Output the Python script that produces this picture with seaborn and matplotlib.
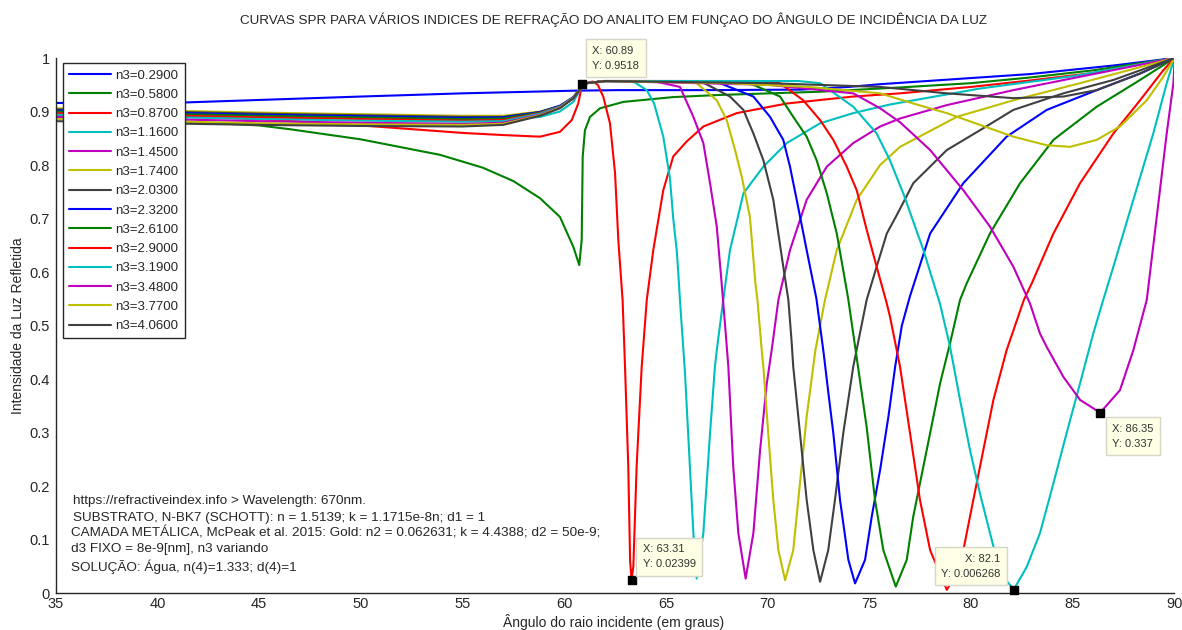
import matplotlib
matplotlib.use("Agg")
import matplotlib.pyplot as plt
from matplotlib import font_manager
import seaborn as sns

# ---------------- data ----------------
labels = ["n3=0.2900", "n3=0.5800", "n3=0.8700", "n3=1.1600", "n3=1.4500", "n3=1.7400",
          "n3=2.0300", "n3=2.3200", "n3=2.6100", "n3=2.9000", "n3=3.1900", "n3=3.4800",
          "n3=3.7700", "n3=4.0600"]

ang_029 = [35, 41.4, 50, 55, 60.55, 62.7, 67, 71.7, 74, 75.5, 79, 82.9, 87, 90]
r_029 = [0.916, 0.917, 0.928, 0.934, 0.939, 0.940, 0.940, 0.941, 0.946, 0.951, 0.960, 0.970, 0.986, 1.0]

ang_058 = [35, 40, 45, 46.5, 50, 53.9, 56, 57.5, 58.81, 59.79, 60.45, 60.74, 60.86, 60.91, 61.02,
           61.27, 61.76, 62.91, 65.36, 67.66, 72.58, 76.51, 80, 83, 86, 90]
r_058 = [0.892, 0.884, 0.874, 0.867, 0.848, 0.819, 0.795, 0.770, 0.738, 0.703, 0.647, 0.613, 0.660,
         0.816, 0.865, 0.890, 0.906, 0.918, 0.927, 0.931, 0.937, 0.945, 0.953, 0.964, 0.977, 1.0]

ang_087 = [35, 40, 45, 50, 51.8, 55, 57, 58.81, 59.79, 60.37, 60.69, 60.89, 61.4, 61.65, 61.92,
           62.25, 62.5, 62.66, 62.87, 62.99, 63.15, 63.24, 63.31, 63.40, 63.56, 63.81, 64.06, 64.38,
           64.87, 65.36, 66.02, 66.84, 68.48, 70.94, 74.21, 76.51, 80, 82.9, 86, 90]
r_087 = [0.897, 0.893, 0.886, 0.874, 0.869, 0.860, 0.856, 0.853, 0.862, 0.884, 0.915, 0.952, 0.956,
         0.950, 0.928, 0.878, 0.785, 0.660, 0.548, 0.423, 0.236, 0.060, 0.024, 0.050, 0.236, 0.423,
         0.548, 0.641, 0.753, 0.816, 0.844, 0.872, 0.897, 0.915, 0.928, 0.934, 0.946, 0.958, 0.972, 1.0]

ang_116 = [35, 40, 45, 50, 55, 57, 58.81, 59.79, 60.45, 60.78, 60.89, 62, 63.4, 64.06, 64.42, 64.87,
           65.2, 65.36, 65.53, 65.61, 65.69, 65.86, 65.94, 66.18, 66.35, 66.51, 66.84, 67.17, 67.41,
           67.5, 67.82, 68.15, 68.81, 69.79, 70.94, 72.58, 74.21, 76.0, 80.44, 85, 90]
r_116 = [0.900, 0.896, 0.892, 0.888, 0.885, 0.884, 0.890, 0.900, 0.918, 0.940, 0.952, 0.957, 0.956,
         0.940, 0.915, 0.853, 0.775, 0.700, 0.641, 0.598, 0.548, 0.454, 0.410, 0.236, 0.112, 0.027,
         0.112, 0.299, 0.423, 0.454, 0.548, 0.641, 0.747, 0.797, 0.841, 0.878, 0.897, 0.913, 0.943,
         0.966, 1.0]

ang_145 = [35, 40, 45, 50, 55, 57, 58.81, 59.79, 60.45, 60.78, 60.89, 62, 64.38, 65.69, 66.35, 66.84,
           67.17, 67.5, 67.74, 67.91, 68.07, 68.31, 68.56, 68.92, 69.30, 69.63, 69.96, 70.2, 70.53,
           71.10, 71.92, 72.91, 74.21, 75.53, 76.51, 78.81, 82.08, 85.36, 90]
r_145 = [0.903, 0.899, 0.895, 0.891, 0.887, 0.887, 0.897, 0.908, 0.924, 0.940, 0.952, 0.957, 0.957,
         0.946, 0.890, 0.841, 0.766, 0.685, 0.579, 0.500, 0.423, 0.236, 0.112, 0.027, 0.112, 0.267,
         0.392, 0.454, 0.548, 0.641, 0.735, 0.797, 0.841, 0.872, 0.887, 0.912, 0.940, 0.965, 1.0]

ang_174 = [35, 40, 45, 50, 55, 57, 58.81, 59.79, 60.45, 60.78, 60.89, 62, 65.5, 66.51, 67.5, 67.99,
           68.4, 68.73, 69.13, 69.4, 69.5, 69.71, 69.79, 70.03, 70.28, 70.53, 70.86, 71.26, 71.59,
           71.92, 72.35, 72.82, 73.40, 74.38, 75.53, 76.51, 77.16, 79.3, 82.08, 85.36, 90]
r_174 = [0.906, 0.902, 0.898, 0.895, 0.892, 0.892, 0.900, 0.910, 0.925, 0.942, 0.952, 0.957, 0.957,
         0.953, 0.921, 0.884, 0.828, 0.778, 0.703, 0.579, 0.548, 0.454, 0.423, 0.299, 0.174, 0.080,
         0.024, 0.080, 0.205, 0.330, 0.454, 0.548, 0.641, 0.735, 0.800, 0.834, 0.847, 0.890, 0.921,
         0.953, 1.0]

ang_203 = [35, 40, 45, 50, 55, 57, 58.81, 59.79, 60.45, 60.78, 60.89, 62, 66, 66.84, 68.15, 68.81,
           69.30, 69.79, 70.28, 70.77, 71.02, 71.18, 71.26, 71.59, 71.92, 72.25, 72.58, 72.98, 73.31,
           73.72, 74.21, 74.87, 75.4, 75.86, 76.4, 77.16, 78.81, 80.44, 82.08, 84.54, 87.0, 90]
r_203 = [0.904, 0.900, 0.896, 0.893, 0.890, 0.890, 0.899, 0.910, 0.926, 0.943, 0.952, 0.957, 0.957,
         0.954, 0.928, 0.903, 0.859, 0.809, 0.735, 0.610, 0.548, 0.470, 0.423, 0.299, 0.174, 0.080,
         0.021, 0.080, 0.174, 0.299, 0.423, 0.548, 0.615, 0.672, 0.710, 0.766, 0.828, 0.865, 0.903,
         0.934, 0.959, 1.0]

ang_232 = [35, 40, 45, 50, 55, 57, 58.81, 59.79, 60.45, 60.78, 60.89, 62, 67, 67.66, 69.30, 70.12,
           70.77, 71.10, 71.43, 71.92, 72.4, 72.75, 73.0, 73.23, 73.56, 73.97, 74.30, 74.79, 75.12,
           75.53, 75.94, 76.27, 76.6, 77.0, 77.99, 79.62, 81.75, 83.72, 86.18, 88.31, 90]
r_232 = [0.902, 0.898, 0.894, 0.891, 0.888, 0.889, 0.899, 0.911, 0.927, 0.943, 0.952, 0.957, 0.957,
         0.953, 0.928, 0.890, 0.847, 0.797, 0.735, 0.641, 0.550, 0.450, 0.370, 0.299, 0.174, 0.062,
         0.018, 0.062, 0.143, 0.230, 0.330, 0.423, 0.500, 0.555, 0.672, 0.766, 0.853, 0.903, 0.940,
         0.971, 1.0]

ang_261 = [35, 40, 45, 50, 55, 57, 58.81, 59.79, 60.45, 60.78, 60.89, 62, 68.5, 69.30, 70.61, 71.26,
           71.92, 72.41, 72.91, 73.40, 73.89, 73.97, 74.38, 74.87, 75.28, 75.69, 76.3, 76.84, 77.16,
           77.49, 77.99, 78.48, 78.97, 79.46, 79.79, 80.93, 82.41, 84.05, 86.18, 88.31, 90]
r_261 = [0.900, 0.896, 0.892, 0.889, 0.886, 0.887, 0.898, 0.910, 0.926, 0.943, 0.952, 0.957, 0.956,
         0.950, 0.928, 0.890, 0.853, 0.809, 0.747, 0.672, 0.566, 0.548, 0.440, 0.310, 0.174, 0.080,
         0.012, 0.062, 0.143, 0.205, 0.299, 0.392, 0.467, 0.548, 0.579, 0.672, 0.766, 0.847, 0.909,
         0.959, 1.0]

ang_290 = [35, 40, 45, 50, 55, 57, 58.81, 59.79, 60.45, 60.78, 60.89, 62, 69.5, 70.61, 71.75, 72.58,
           73.23, 73.89, 74.38, 74.87, 75.36, 75.86, 76.02, 76.51, 77.0, 77.49, 77.99, 78.81, 79.46,
           79.95, 80.44, 81.10, 81.75, 82.6, 83.0, 84.05, 85.36, 87.0, 88.31, 89.45, 90]
r_290 = [0.897, 0.893, 0.889, 0.886, 0.883, 0.884, 0.897, 0.909, 0.926, 0.943, 0.952, 0.957, 0.957,
         0.953, 0.921, 0.884, 0.847, 0.797, 0.753, 0.679, 0.610, 0.541, 0.516, 0.423, 0.299, 0.174,
         0.080, 0.006, 0.049, 0.143, 0.236, 0.361, 0.454, 0.548, 0.580, 0.672, 0.766, 0.859, 0.921,
         0.977, 1.0]

ang_319 = [35, 40, 45, 50, 55, 57, 58.81, 59.79, 60.45, 60.78, 60.89, 62, 71.5, 72.58, 74.21, 75.36,
           76.0, 76.67, 77.66, 78.48, 78.97, 79.46, 79.95, 80.44, 81.10, 81.6, 82.1, 82.74, 83.39,
           84.05, 84.70, 85.36, 86.01, 86.50, 87.0, 87.98, 88.96, 89.62, 90]
r_319 = [0.894, 0.890, 0.886, 0.883, 0.881, 0.882, 0.896, 0.909, 0.926, 0.943, 0.952, 0.957, 0.957,
         0.953, 0.909, 0.859, 0.810, 0.747, 0.641, 0.540, 0.460, 0.361, 0.267, 0.186, 0.087, 0.030,
         0.0063, 0.049, 0.112, 0.205, 0.299, 0.392, 0.485, 0.548, 0.610, 0.735, 0.859, 0.953, 1.0]

ang_348 = [35, 40, 45, 50, 55, 57, 58.81, 59.79, 60.45, 60.78, 60.89, 62, 70, 74.21, 75.53, 76.51,
           77.99, 79.62, 80.93, 82.08, 82.90, 83.39, 83.72, 84.54, 85.36, 86.35, 87.32, 87.98, 88.64,
           89.13, 89.62, 89.95, 90]
r_348 = [0.890, 0.886, 0.882, 0.879, 0.877, 0.879, 0.894, 0.908, 0.925, 0.942, 0.952, 0.957, 0.950,
         0.934, 0.906, 0.880, 0.828, 0.753, 0.685, 0.610, 0.541, 0.485, 0.460, 0.404, 0.361, 0.337,
         0.379, 0.454, 0.548, 0.703, 0.859, 0.953, 0.99]

ang_377 = [35, 40, 45, 50, 55, 57, 58.81, 59.79, 60.45, 60.78, 60.89, 62, 68, 72, 75.53, 77.16,
           78.81, 80.44, 82.08, 83.72, 84.87, 86.18, 87.32, 88.64, 89.45, 90]
r_377 = [0.886, 0.882, 0.878, 0.876, 0.875, 0.877, 0.893, 0.907, 0.925, 0.942, 0.952, 0.957, 0.953,
         0.946, 0.934, 0.915, 0.897, 0.875, 0.853, 0.837, 0.834, 0.847, 0.872, 0.921, 0.965, 1.0]

ang_406 = [35, 40, 45, 50, 55, 57, 58.81, 59.79, 60.45, 60.78, 60.89, 62, 70, 75.53, 78.81, 82.08,
           84.54, 86.18, 88.31, 90]
r_406 = [0.882, 0.878, 0.875, 0.873, 0.872, 0.875, 0.892, 0.906, 0.925, 0.942, 0.952, 0.957, 0.953,
         0.946, 0.934, 0.925, 0.928, 0.940, 0.971, 1.0]

angles = [ang_029, ang_058, ang_087, ang_116, ang_145, ang_174, ang_203,
          ang_232, ang_261, ang_290, ang_319, ang_348, ang_377, ang_406]
reflect = [r_029, r_058, r_087, r_116, r_145, r_174, r_203,
           r_232, r_261, r_290, r_319, r_348, r_377, r_406]

tip_x = [60.89, 63.31, 82.1, 86.35]
tip_y = [0.9518, 0.02399, 0.006268, 0.337]
tip_text = ["X: 60.89\nY: 0.9518", "X: 63.31\nY: 0.02399",
            "X: 82.1\nY: 0.006268", "X: 86.35\nY: 0.337"]

info_lines = ["https://refractiveindex.info > Wavelength: 670nm.",
              "SUBSTRATO, N-BK7 (SCHOTT): n = 1.5139; k = 1.1715e-8n; d1 = 1",
              "CAMADA METÁLICA, McPeak et al. 2015: Gold: n2 = 0.062631; k = 4.4388; d2 = 50e-9;",
              "d3 FIXO = 8e-9[nm], n3 variando",
              "SOLUÇÃO: Água, n(4)=1.333; d(4)=1"]

title_text = "CURVAS SPR PARA VÁRIOS INDICES DE REFRAÇÃO DO ANALITO EM FUNÇAO DO ÂNGULO DE INCIDÊNCIA DA LUZ"
xlabel_text = "Ângulo do raio incidente (em graus)"
ylabel_text = "Intensidade da Luz Refletida"

# ---------------- style ----------------
colors = [(0, 0, 1), (0, 0.5, 0), (1, 0, 0), (0, 0.75, 0.75), (0.75, 0, 0.75),
          (0.75, 0.75, 0), (0.25, 0.25, 0.25)] * 2

sns.set_style("white")
plt.rcParams['font.family'] = ['Liberation Sans', 'DejaVu Sans']

avail = {f.name for f in font_manager.fontManager.ttflist}
if 'Liberation Sans Narrow' in avail:
    title_font = dict(family=['Liberation Sans Narrow', 'Liberation Sans'], fontsize=10)
else:
    title_font = dict(family=['Liberation Sans', 'DejaVu Sans'], fontsize=9.7)

fig = plt.figure(figsize=(11.82, 6.30), dpi=100)
ax = fig.add_axes([0.0471, 0.0587, 0.9465, 0.8492])

for lbl, xs, ys, col in zip(labels, angles, reflect, colors):
    sns.lineplot(x=xs, y=ys, ax=ax, color=col, linewidth=1.5, label=lbl,
                 sort=False, estimator=None)

ax.set_xlim(35, 90)
ax.set_ylim(0, 1)
ax.set_xticks(range(35, 91, 5))
ax.set_yticks([i / 10 for i in range(11)])
ax.set_yticklabels(["0", "0.1", "0.2", "0.3", "0.4", "0.5", "0.6", "0.7", "0.8", "0.9", "1"])
ax.tick_params(direction='in', length=5, width=1, colors='#262626', labelsize=10.5)
ax.tick_params(axis='x', pad=3)
ax.tick_params(axis='y', pad=4)
for s in ['top', 'right']:
    ax.spines[s].set_visible(False)
for s in ['left', 'bottom']:
    ax.spines[s].set_color('#262626')
    ax.spines[s].set_linewidth(1)

ax.set_xlabel(xlabel_text, fontsize=10)
ax.set_ylabel(ylabel_text, fontsize=10)
ax.xaxis.set_label_coords(0.499, -0.040)
ax.yaxis.set_label_coords(-0.0275, 0.5)

leg = ax.legend(loc='upper left', bbox_to_anchor=(0.0063, 0.990), borderaxespad=0,
                fontsize=9.5, handlelength=3.2, handletextpad=0.35, labelspacing=0.535,
                borderpad=0.45, fancybox=False, framealpha=1, edgecolor='#262626')
leg.get_frame().set_linewidth(1)

# data tips
ax.scatter(tip_x, tip_y, marker='s', s=34, color='black', zorder=6, clip_on=False)
tip_offsets = [(10, 13, 'left', 'bottom'), (11, 11, 'left', 'bottom'),
               (-13, 11, 'right', 'bottom'), (12, -11, 'left', 'top')]
for tx, ty, tt, (dx, dy, ha, va) in zip(tip_x, tip_y, tip_text, tip_offsets):
    ax.annotate(tt, xy=(tx, ty), xytext=(dx, dy), textcoords='offset pixels',
                ha=ha, va=va, fontsize=8, color='#333333', linespacing=1.6, zorder=7,
                bbox=dict(boxstyle='square,pad=0.6', fc='#FFFFE6', ec='#D6D6C8', lw=1))

# info text block
info_x = [0.0155, 0.0155, 0.0137, 0.0137, 0.0137]
info_y = [0.172, 0.141, 0.112, 0.082, 0.050]
for tx, ty, line in zip(info_x, info_y, info_lines):
    ax.text(tx, ty, line, transform=ax.transAxes, ha='left', va='center',
            fontsize=9.7, color='#262626')

fig.text(0.519, 0.968, title_text, ha='center', va='center', color='#262626', **title_font)

fig.savefig("out.png", dpi=100)
